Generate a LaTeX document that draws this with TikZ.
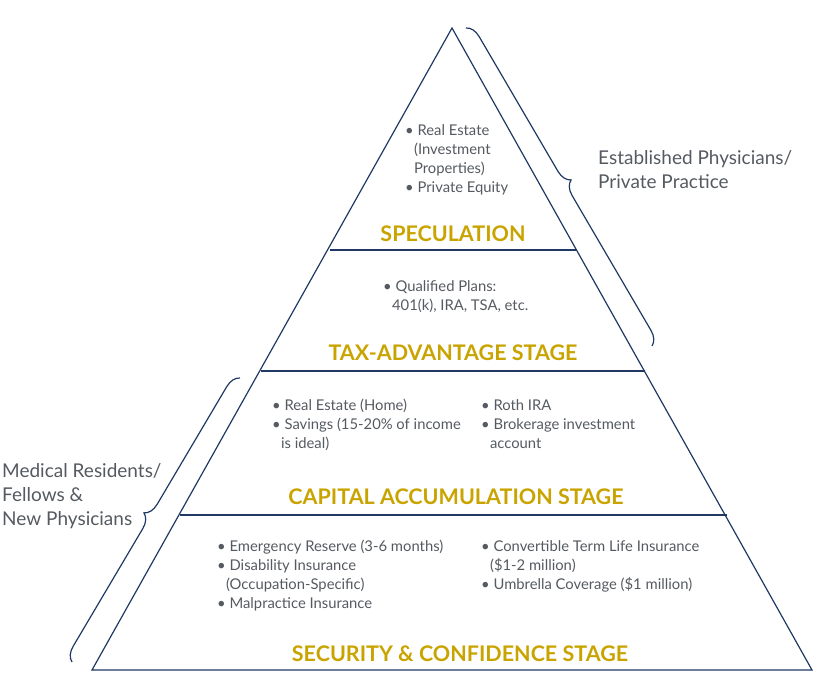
\documentclass[tikz,border=0pt]{standalone}
\usepackage{fontspec}
\setmainfont{Lato}
\usepackage{tikz}
\usetikzlibrary{decorations.pathreplacing,positioning}
\definecolor{navy}{HTML}{1F3864}
\definecolor{gold}{HTML}{C9A400}
\definecolor{txt}{HTML}{555A60}
\tikzset{
	stagetitle/.style={text=gold, font=\bfseries\fontsize{21.5}{24}\selectfont},
	bullets/.style={text=txt, font=\fontsize{14.8}{19}\selectfont, align=left, anchor=north west, inner sep=0pt},
	sidelabel/.style={text=txt, font=\fontsize{19}{24}\selectfont, align=left, anchor=west, inner sep=0pt},
	bracket/.style={navy, line width=1.2pt, decorate, decoration={brace, amplitude=14pt}}
}
\begin{document}
\begin{tikzpicture}[x=1pt, y=-1pt]
	\useasboundingbox (0,0) rectangle (822,700);
	\coordinate (apex) at (452,28);
	\coordinate (bl) at (92,670);
	\coordinate (br) at (812,670);
	\draw [navy, line width=1.2pt] (apex) -- (br) -- (bl) -- cycle;
	\draw [navy, line width=1.2pt] (330,250) -- (577,250);
	\draw [navy, line width=1.2pt] (261,371) -- (645,371);
	\draw [navy, line width=1.2pt] (180,515) -- (727,515);

	% stage titles
	\node (spec) at (453,234) [stagetitle] {SPECULATION};
	\node (tax) at (453,353) [stagetitle] {TAX-ADVANTAGE STAGE};
	\node (cap) at (456,497) [stagetitle] {CAPITAL ACCUMULATION STAGE};
	\node (sec) at (460,654) [stagetitle] {SECURITY \& CONFIDENCE STAGE};

	% contents
	\node (specl) at (405,124) [bullets] {• Real Estate\\\hspace{0.6em}(Investment\\\hspace{0.6em}Properties)\\• Private Equity};
	\node (taxl) at (383,280) [bullets] {• Qualified Plans:\\\hspace{0.6em}401(k), IRA, TSA, etc.};
	\node (capl) at (272,399) [bullets] {• Real Estate (Home)\\• Savings (15-20\% of income\\\hspace{0.6em}is ideal)};
	\node (capr) at (481,399) [bullets] {• Roth IRA\\• Brokerage investment\\\hspace{0.6em}account};
	\node (secl) at (217,540) [bullets] {• Emergency Reserve (3-6 months)\\• Disability Insurance\\\hspace{0.6em}(Occupation-Specific)\\• Malpractice Insurance};
	\node (secr) at (481,540) [bullets] {• Convertible Term Life Insurance\\\hspace{0.6em}(\$1-2 million)\\• Umbrella Coverage (\$1 million)};

	% braces
	\coordinate (rt) at (466,28);
	\coordinate (rb) at (652,346);
	\coordinate (lt) at (240,378);
	\coordinate (lb) at (72,662);
	\draw [bracket] (rt) -- (rb);
	\draw [bracket] (lb) -- (lt);
	\node (estab) at (598,170) [sidelabel] {Established Physicians/\\Private Practice};
	\node (resid) at (2,496) [sidelabel] {Medical Residents/\\Fellows \&\\New Physicians};
\end{tikzpicture}
\end{document}
